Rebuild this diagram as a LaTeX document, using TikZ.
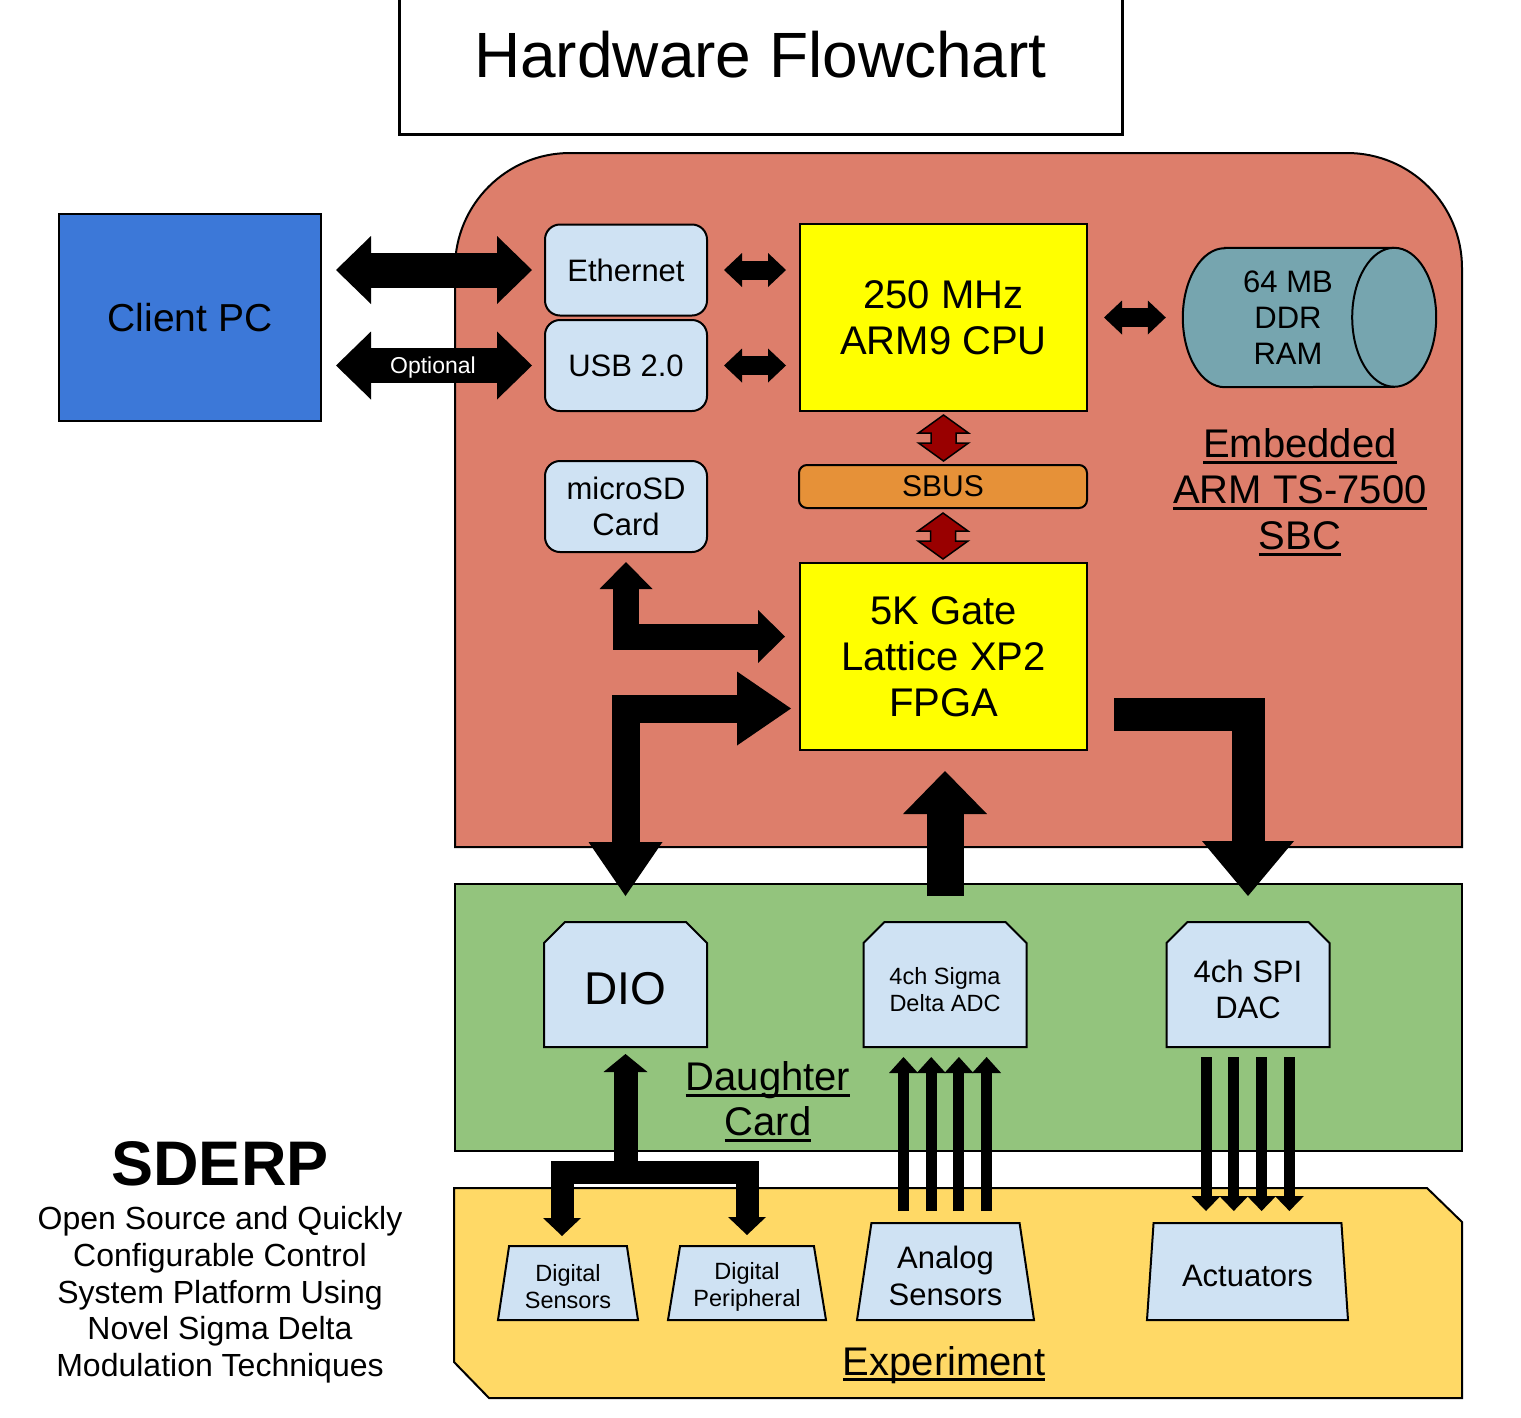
\documentclass[tikz,border=0pt]{standalone}
\usepackage{fontspec}
\setmainfont{Liberation Sans}
\usetikzlibrary{arrows.meta,positioning,calc,shapes.geometric,shapes.misc}

\definecolor{sbcred}{HTML}{DD7E6B}
\definecolor{dcgreen}{HTML}{93C47D}
\definecolor{expyellow}{HTML}{FFD966}
\definecolor{lightblue}{HTML}{CFE2F3}
\definecolor{pcblue}{HTML}{3C78D8}
\definecolor{sbusorange}{HTML}{E69138}
\definecolor{ramcyan}{HTML}{76A5AF}
\definecolor{linkred}{HTML}{990000}
\definecolor{procyellow}{HTML}{FFFF00}

\newcommand\sizeto[2]{\fontsize{#1}{#2}\selectfont}
\newcommand\ulline[1]{\setbox0=\hbox{#1}\rlap{\rule[-6pt]{\wd0}{3pt}}\box0}
\newcommand\topstrut[1]{\rule{0pt}{#1}}

\tikzset{
  board/.style={draw,line width=2pt},
  titlebox/.style={draw,line width=3pt},
  box/.style={draw,line width=2pt,align=center,inner sep=0pt},
  client/.style={box,fill=pcblue,minimum width=262pt,minimum height=207pt,font=\sizeto{39}{45}},
  iface/.style={box,fill=lightblue,rounded corners=15pt,minimum width=162pt,minimum height=91pt,font=\sizeto{31}{36}},
  proc/.style={box,fill=procyellow,minimum width=287pt,minimum height=187pt,font=\sizeto{40}{46}},
  busbar/.style={box,fill=sbusorange,rounded corners=8pt,minimum width=288pt,minimum height=43pt,font=\sizeto{30}{36}},
  memshape/.style={draw,line width=2pt,fill=ramcyan},
  chip/.style={box,fill=lightblue,chamfered rectangle,chamfered rectangle corners={north west,north east},
    chamfered rectangle xsep=10pt,chamfered rectangle ysep=11pt,minimum width=163pt,minimum height=125pt},
  device/.style={box,fill=lightblue,trapezium,trapezium left angle=78,trapezium right angle=78,
    trapezium stretches body,minimum height=74pt},
  boardlabel/.style={align=center,inner sep=0pt,font=\sizeto{40}{46}},
  twoway/.style n args={3}{line width=#1,
    arrows={Triangle[width=#2,length=#3,line width=0pt]-Triangle[width=#2,length=#3,line width=0pt]}},
  oneway/.style n args={3}{line width=#1,arrows={-Triangle[width=#2,length=#3,line width=0pt]}},
  sbuslink/.style={draw,line width=1.5pt,fill=linkred,line join=miter}
}

\begin{document}
\begin{tikzpicture}[x=1pt,y=-1pt]
\useasboundingbox (0,0) rectangle (1521,1417);

% title
\draw[titlebox] (399,-10) rectangle (1122,134);
\node[inner sep=0pt,font=\sizeto{64}{70}] (title) at (760.5,55) {Hardware Flowchart};

% boards
\draw[board,fill=sbcred] (455,847) -- (455,268) arc[start angle=180,end angle=270,radius=115]
  -- (1347,153) arc[start angle=270,end angle=360,radius=115] -- (1462,847) -- cycle;
\draw[board,fill=dcgreen] (455,884) rectangle (1462,1151);
\draw[board,fill=expyellow] (454,1188) -- (1427,1188) -- (1462,1222) -- (1462,1398)
  -- (489,1398) -- (454,1362) -- cycle;

% SBC
\node[client] (pc) at (190,317.5) {Client PC};
\node[iface] (eth) at (626,270) {Ethernet};
\node[iface] (usb) at (626,365.5) {USB 2.0};
\node[iface] (sd) at (626,506.5) {microSD\\Card};
\node[proc] (cpu) at (943.5,317.5) {250 MHz\\ARM9 CPU};
\node[busbar] (sbus) at (943,486.5) {SBUS};
\node[proc] (fpga) at (943.5,656.5) {5K Gate\\Lattice XP2\\FPGA};
\node[minimum width=253pt,minimum height=139pt,inner sep=0pt] (ram) at (1309.5,317.5) {};
\draw[memshape] ([xshift=42pt]ram.north west) -- ([xshift=-42pt]ram.north east)
  arc[x radius=42,y radius=69.5,start angle=-90,end angle=90] -- ([xshift=42pt]ram.south west)
  arc[x radius=42,y radius=69.5,start angle=90,end angle=270] -- cycle;
\draw[line width=2pt] ([xshift=-42pt]ram.north east) arc[x radius=42,y radius=69.5,start angle=270,end angle=90];
\node[align=center,inner sep=0pt,font=\sizeto{31}{36}] (ramtext) at ([xshift=-21.5pt]ram.center) {64 MB\\DDR\\RAM};
\node[boardlabel] (sbclabel) at (1300,492) {\ulline{Embedded}\\\ulline{ARM TS-7500}\\\ulline{SBC}};

% daughter card
\node[chip,font=\sizeto{46}{50}] (dio) at (625.5,984.5) {\topstrut{39.5pt}DIO};
\node[chip,font=\sizeto{23.5}{27}] (adc) at (945,984.5) {\topstrut{27pt}4ch Sigma\\Delta ADC};
\node[chip,font=\sizeto{31}{36}] (dac) at (1248,984.5) {\topstrut{32.6pt}4ch SPI\\DAC};
\node[boardlabel,font=\sizeto{40}{45}] (dclabel) at (768,1101.5) {\ulline{Daughter}\\\ulline{Card}};

% experiment
\node[device,minimum width=140pt,font=\sizeto{23.5}{27}] (dsens) at (568,1283) {\topstrut{25pt}Digital\\Sensors};
\node[device,minimum width=158pt,font=\sizeto{23.5}{27}] (dperi) at (747,1283) {\topstrut{25pt}Digital\\Peripheral};
\node[device,minimum width=177pt,minimum height=97pt,font=\sizeto{31}{37}] (asens) at (945.5,1271.5) {\topstrut{30.6pt}Analog\\Sensors};
\node[device,minimum width=201pt,minimum height=97pt,font=\sizeto{31}{37}] (act) at (1247.5,1271.5) {\topstrut{30.6pt}Actuators};
\node[boardlabel] (explabel) at (944,1365) {\ulline{Experiment}};

% project
\node[inner sep=0pt,font=\bfseries\sizeto{63}{70}] (sderp) at (220,1164) {SDERP};
\node[inner sep=0pt,align=center,font=\sizeto{32}{36.7}] (subtitle) at (220,1295)
  {Open Source and Quickly\\Configurable Control\\System Platform Using\\Novel Sigma Delta\\Modulation Techniques};

% links
\draw[twoway={35pt}{68pt}{35pt},shorten <=14pt,shorten >=12pt] (pc.east |- eth) -- (eth.west);
\draw[twoway={35pt}{68pt}{35pt},shorten <=14pt,shorten >=12pt] (pc.east |- usb) --
  node[text=white,inner sep=0pt,yshift=-2pt,font=\sizeto{23}{27}] {Optional} (usb.west);
\draw[twoway={19pt}{34pt}{18pt},shorten <=16pt,shorten >=13pt] (eth.east) -- (eth -| cpu.west);
\draw[twoway={19pt}{34pt}{18pt},shorten <=16pt,shorten >=13pt] (usb.east) -- (usb -| cpu.west);
\draw[twoway={19pt}{34pt}{18pt},shorten <=16pt,shorten >=17pt] (cpu.east) -- (ram.west);
\draw[sbuslink] (cpu.south) ++(0,3) -- ++(25,18) -- ++(-12.5,0) -- ++(0,10) -- ++(12.5,0)
  -- ++(-25,18) -- ++(-25,-18) -- ++(12.5,0) -- ++(0,-10) -- ++(-12.5,0) -- cycle;
\draw[sbuslink] (sbus.south) ++(0,4) -- ++(25,18) -- ++(-12.5,0) -- ++(0,10) -- ++(12.5,0)
  -- ++(-25,18) -- ++(-25,-18) -- ++(12.5,0) -- ++(0,-10) -- ++(-12.5,0) -- cycle;
\draw[twoway={26pt}{53pt}{27pt},shorten <=9pt,shorten >=14pt] (sd.south) |- ($(fpga.west)+(0,-20)$);
\draw[twoway={28pt}{74pt}{54pt},shorten <=25pt,shorten >=8pt] (dio.north) |- ($(fpga.west)+(0,52)$);
\draw[oneway={37pt}{84pt}{43pt},shorten <=25pt,shorten >=20pt] (adc.north) -- (adc.north |- fpga.south);
\draw[oneway={33pt}{92pt}{55pt},shorten <=26pt,shorten >=25pt] ($(fpga.east)+(0,57.5)$) -| (dac.north);

% DIO fork
\coordinate (fork) at ($(dio.south)+(0,124)$);
\draw[oneway={24pt}{44pt}{18pt},shorten >=6pt] (fork) -- (dio.south);
\draw[twoway={23pt}{38pt}{18pt},shorten <=9pt,shorten >=10pt] ($(dsens.north)+(-6,0)$) |- (fork) -| (dperi.north);

% sensor and actuator wires
\foreach \k in {0,1,2,3} {
  \draw[oneway={11pt}{29pt}{16pt},shorten <=11pt,shorten >=9pt]
    ($(asens.north)+(-42+27.7*\k,0)$) coordinate (w) -- (w |- adc.south);
  \draw[oneway={11pt}{29pt}{15pt},shorten <=9pt,shorten >=11pt]
    ($(dac.south)+(-42+27.8*\k,0)$) coordinate (w) -- (w |- act.north);
}
\end{tikzpicture}
\end{document}
